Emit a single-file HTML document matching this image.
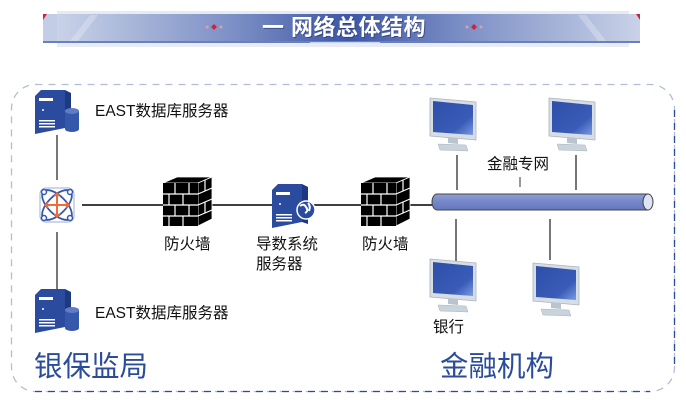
<!DOCTYPE html>
<html><head><meta charset="utf-8"><style>
html,body{margin:0;padding:0;background:#fff;width:686px;height:401px;overflow:hidden}
svg{display:block}
text{font-family:"Liberation Sans","Noto Sans CJK SC",sans-serif}
</style></head><body>
<svg width="686" height="401" viewBox="0 0 686 401" xmlns="http://www.w3.org/2000/svg">
<defs>
<linearGradient id="ban" x1="0" x2="1" y1="0" y2="0">
<stop offset="0" stop-color="#c9d2e8"/><stop offset="0.3" stop-color="#7d90c6"/><stop offset="0.5" stop-color="#3e57a6"/><stop offset="0.7" stop-color="#7d90c6"/><stop offset="1" stop-color="#c9d2e8"/>
</linearGradient>
<linearGradient id="scr" x1="0" x2="1" y1="0" y2="1">
<stop offset="0" stop-color="#2d4fa8"/><stop offset="0.7" stop-color="#3a5cb8"/><stop offset="1" stop-color="#7a9ae0"/>
</linearGradient>
<linearGradient id="pipe" x1="0" x2="0" y1="0" y2="1">
<stop offset="0" stop-color="#8f9fd6"/><stop offset="0.5" stop-color="#7486c8"/><stop offset="1" stop-color="#6678bd"/>
</linearGradient>
<g id="srv">
<path d="M0 6 L6 0 L30 0 L30 38 L0 44 Z" fill="#2a4b9e"/>
<path d="M30 0 L36 3 L36 40 L30 38 Z" fill="#1d3a80"/>
<rect x="4" y="8" width="14" height="3" fill="#fff"/>
<rect x="4" y="30" width="16" height="1.5" fill="#fff"/><rect x="4" y="33" width="16" height="1.5" fill="#fff"/><rect x="4" y="36" width="16" height="1.5" fill="#fff"/>
<circle cx="8" cy="20" r="1" fill="#fff"/>
</g>
<g id="mon">
<path d="M0 0 L46 4 L46 42 L0 38 Z" fill="#d6dde4" stroke="#aab4bf" stroke-width="0.8"/>
<path d="M3 3 L43 7 L43 37 L3 34 Z" fill="url(#scr)"/>
<path d="M18 39 L28 40 L28 46 L18 45 Z" fill="#b9c4cf"/>
<path d="M8 46 L36 47 L38 53 L10 52 Z" fill="#c9d3dc" stroke="#aab4bf" stroke-width="0.5"/>
</g>
<g id="fw">
<path d="M0 6 L14 0 L49 0 L35 6 Z" fill="#000" stroke="#fff" stroke-width="0.8"/>
<path d="M35 6 L49 0 L49 42 L35 49 Z" fill="#000" stroke="#fff" stroke-width="0.8"/>
<rect x="0" y="6" width="35" height="43" fill="#000"/>
<g stroke="#fff" stroke-width="1.2" fill="none">
<path d="M0 17 H35 M0 28 H35 M0 39 H35"/>
<path d="M12 6 V17 M26 6 V17 M6 17 V28 M20 17 V28 M12 28 V39 M26 28 V39 M6 39 V49 M20 39 V49"/>
<path d="M35 17 L49 11 M35 28 L49 22 M35 39 L49 33 M42 3 V14 M42 25 V36"/>
</g>
</g>
</defs>

<!-- banner -->
<rect x="57" y="11" width="572" height="4" fill="#e6eaf4"/>
<rect x="57" y="14" width="583" height="28" fill="url(#ban)"/>
<rect x="43" y="14" width="14" height="28" fill="#c4cde6"/>
<rect x="43" y="41" width="597" height="2" fill="#6a7fbe"/>
<rect x="57" y="43" width="572" height="4" fill="#e8ecf5"/>
<path d="M43 14 L47 14 L43 20 Z" fill="#d0233b"/><path d="M640 14 L636 14 L640 20 Z" fill="#d0233b"/>
<path d="M70 41 L90 15 L98 15 L78 41 Z" fill="#fff" opacity="0.25"/>
<path d="M598 41 L578 15 L586 15 L606 41 Z" fill="#fff" opacity="0.25"/>
<g fill="#d0233b"><path d="M214 24 l3 3 -3 3 -3 -3z"/><path d="M474 24 l3 3 -3 3 -3 -3z"/></g>
<g fill="#d8a0b0"><circle cx="207" cy="27" r="1.5"/><circle cx="221" cy="27" r="1.5"/><circle cx="467" cy="27" r="1.5"/><circle cx="481" cy="27" r="1.5"/></g>
<rect x="310" y="42" width="70" height="2" fill="#e0e8ff" opacity="0.8"/>
<text x="345" y="36" text-anchor="middle" font-size="22" font-weight="bold" letter-spacing="0.5" fill="#26336a" opacity="0.6">一 网络总体结构</text>
<text x="344" y="35" text-anchor="middle" font-size="22" font-weight="bold" letter-spacing="0.5" fill="#fff">一 网络总体结构</text>

<!-- border -->
<rect x="11.5" y="84.5" width="663" height="307" rx="24" fill="none" stroke="#b4bdd6" stroke-width="1.3" stroke-dasharray="7,6"/>
<path d="M35 391.5 H650" stroke="#2b4c9b" stroke-width="1.3" stroke-dasharray="7,6"/>
<path d="M674.5 110 V370" stroke="#2b4c9b" stroke-width="1.3" stroke-dasharray="7,6"/>

<!-- connectors -->
<g stroke="#777" stroke-width="2">
<line x1="57" y1="135" x2="57" y2="180"/><line x1="57" y1="232" x2="57" y2="290"/>
<line x1="457" y1="155" x2="457" y2="190"/><line x1="576" y1="155" x2="576" y2="190"/>
<line x1="456" y1="219" x2="456" y2="268"/><line x1="550" y1="219" x2="550" y2="260"/>
</g>
<line x1="520" y1="177" x2="520" y2="187" stroke="#333" stroke-width="1"/>
<line x1="82" y1="205" x2="432" y2="205" stroke="#000" stroke-width="1.5"/>

<!-- pipe -->
<path d="M437 194 H648 V210 H437 A5 8 0 0 1 437 194 Z" fill="url(#pipe)" stroke="#444" stroke-width="1"/>
<ellipse cx="648" cy="202" rx="5" ry="8" fill="#dfe4f4" stroke="#444" stroke-width="1"/>

<!-- servers -->
<use href="#srv" x="35" y="90"/>
<path d="M65 111 v18 a7 3 0 0 0 14 0 v-18" fill="#3558aa"/><ellipse cx="72" cy="111" rx="7" ry="3" fill="#5f7cc4"/>
<use href="#srv" x="35" y="289"/>
<path d="M65 310 v18 a7 3 0 0 0 14 0 v-18" fill="#3558aa"/><ellipse cx="72" cy="310" rx="7" ry="3" fill="#5f7cc4"/>
<use href="#srv" x="272" y="184"/>
<circle cx="306" cy="210" r="9" fill="#2a4b9e" stroke="#fff" stroke-width="1.5"/>
<path d="M300 206 q4 -3 6 1 q3 4 -1 6 M308 203 q3 3 1 8" stroke="#fff" stroke-width="2" fill="none"/>

<!-- hub -->
<rect x="40" y="188" width="34" height="34" rx="6" fill="none" stroke="#3558aa" stroke-width="1.2" opacity="0.4"/>
<g stroke="#3558aa" stroke-width="1.8" fill="none">
<ellipse cx="57" cy="205" rx="19" ry="9" transform="rotate(45 57 205)"/>
<ellipse cx="57" cy="205" rx="19" ry="9" transform="rotate(-45 57 205)"/>
</g>
<g fill="#fff" stroke="#3558aa" stroke-width="1.5">
<circle cx="44" cy="192" r="2.5"/><circle cx="70" cy="192" r="2.5"/><circle cx="44" cy="218" r="2.5"/><circle cx="70" cy="218" r="2.5"/>
</g>
<g stroke="#f06a3a" stroke-width="2" fill="#f06a3a">
<line x1="46" y1="205" x2="68" y2="205"/><line x1="57" y1="194" x2="57" y2="216"/>
<path d="M44 205 l4 -3 v6z M70 205 l-4 -3 v6z M57 192 l-3 4 h6z M57 218 l-3 -4 h6z" stroke-width="0.5"/>
</g>

<!-- firewalls -->
<use href="#fw" x="163" y="177"/>
<use href="#fw" x="361" y="177"/>

<!-- monitors -->
<use href="#mon" x="430" y="98"/>
<use href="#mon" x="549" y="98"/>
<use href="#mon" x="430" y="259"/>
<use href="#mon" x="533" y="263"/>

<!-- labels -->
<g font-size="15.5" fill="#111">
<text x="95" y="116">EAST数据库服务器</text>
<text x="95" y="318">EAST数据库服务器</text>
<text x="164" y="249">防火墙</text>
<text x="362" y="249">防火墙</text>
<text x="256" y="249">导数系统</text>
<text x="256" y="269">服务器</text>
<text x="487" y="169">金融专网</text>
<text x="433" y="332">银行</text>
</g>
<g font-size="28.5" fill="#2b4c9b">
<text x="34" y="376">银保监局</text>
<text x="440" y="376">金融机构</text>
</g>
</svg>
</body></html>
